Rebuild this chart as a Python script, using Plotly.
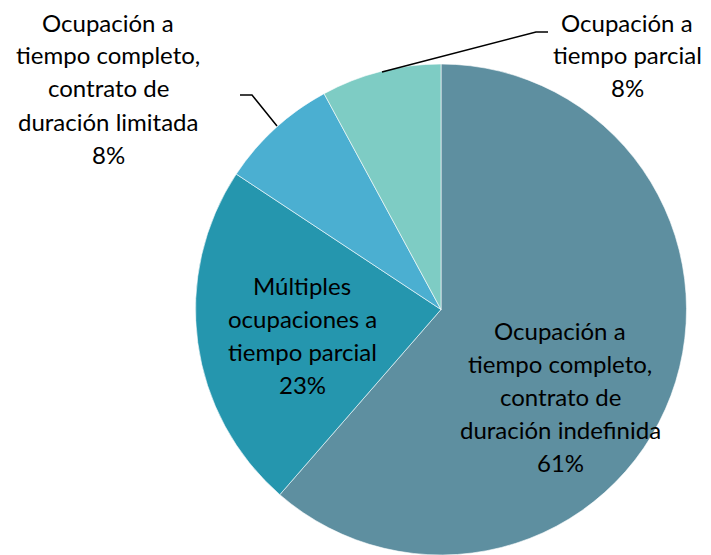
import plotly.graph_objects as go

W, H = 711, 555

categories = [
    "Ocupación a tiempo completo, contrato de duración indefinida",
    "Múltiples ocupaciones a tiempo parcial",
    "Ocupación a tiempo completo, contrato de duración limitada",
    "Ocupación a tiempo parcial",
]
values = [61.4, 22.9, 7.8, 7.9]
pct_labels = ["61%", "23%", "8%", "8%"]
label_lines = [
    ["Ocupación a", "tiempo completo,", "contrato de", "duración indefinida"],
    ["Múltiples", "ocupaciones a", "tiempo parcial"],
    ["Ocupación a", "tiempo completo,", "contrato de", "duración limitada"],
    ["Ocupación a", "tiempo parcial"],
]
colors = ["#5E8FA0", "#2596AE", "#4BAFD1", "#7ECCC4"]

# label block anchor (center x, first line y) in pixels, and line spacing
label_pos = [(560, 330), (302, 285), (108, 22), (627, 22)]
line_h = 33

FONT = "Lato"
FSIZE = 24

def px(x):
    return x / W

def py(y):
    return 1 - y / H

fig = go.Figure(go.Pie(
    labels=categories,
    values=values,
    marker=dict(colors=colors, line=dict(color="white", width=0.6)),
    sort=False,
    direction="clockwise",
    rotation=0,
    textinfo="none",
    hoverinfo="label+percent",
    showlegend=False,
    domain=dict(x=[px(195), px(687)], y=[py(555), py(64)]),
))

annotations = []
for lines, pct, (cx, y0) in zip(label_lines, pct_labels, label_pos):
    for i, t in enumerate(lines + [pct]):
        annotations.append(dict(
            x=px(cx), y=py(y0 + i * line_h), xref="paper", yref="paper",
            text=t, showarrow=False, xanchor="center", yanchor="middle",
            font=dict(family=FONT, size=FSIZE, color="#000000"),
        ))

# leader lines
leaders = [
    [(382, 72), (536, 32), (548, 32)],
    [(277, 126), (252, 95), (240, 95)],
]
shapes = []
for pts in leaders:
    path = "M " + " L ".join(f"{px(x)},{py(y)}" for x, y in pts)
    shapes.append(dict(type="path", path=path, xref="paper", yref="paper",
                       line=dict(color="black", width=1.5)))

fig.update_layout(
    width=W, height=H,
    margin=dict(l=0, r=0, t=0, b=0),
    paper_bgcolor="white",
    plot_bgcolor="white",
    annotations=annotations,
    shapes=shapes,
)

fig.write_html(
    "out.html",
    config={"displayModeBar": False},
    post_script="document.body.style.margin='0';document.body.style.overflow='hidden';",
)
